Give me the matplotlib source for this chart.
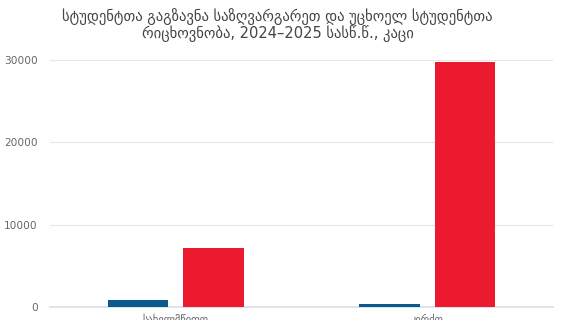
import matplotlib
matplotlib.use("Agg")
import matplotlib.pyplot as plt
import numpy as np

# data
categories = ["სახელმწიფო", "კერძო"]
sent_abroad = [850, 400]
foreign_students = [7150, 29750]
title = "სტუდენტთა გაგზავნა საზღვარგარეთ და უცხოელ სტუდენტთა\nრიცხოვნობა, 2024–2025 სასწ.წ., კაცი"

plt.rcParams['font.family'] = ['DejaVu Sans']

fig = plt.figure(figsize=(5.63, 3.2), dpi=100)
ax = fig.add_axes([0.089, 0.0406, 0.893, 0.772])

x = np.arange(len(categories))
w = 0.24
ax.bar(x - 0.15, sent_abroad, width=w, color="#0b5a8f", zorder=3)
ax.bar(x + 0.15, foreign_students, width=w, color="#eb1a2e", zorder=3)

ax.set_xlim(-0.5, 1.5)
ax.set_ylim(0, 30000)
ax.set_yticks([0, 10000, 20000, 30000])
ax.set_xticks(x)
ax.set_xticklabels(categories)
ax.tick_params(axis='both', length=0, labelsize=7.6, colors="#666666")
ax.tick_params(axis='y', pad=9)
ax.tick_params(axis='x', pad=5)
ax.grid(axis='y', color="#e6e6e6", linewidth=0.8, zorder=0)
for s in ['top', 'right', 'left']:
    ax.spines[s].set_visible(False)
ax.spines['bottom'].set_color("#d8dde6")
ax.spines['bottom'].set_linewidth(1.2)

fig.text(0.493, 0.975, title, ha='center', va='top', fontsize=10.5,
         color="#444444", linespacing=1.02)

fig.savefig("out.png", dpi=100)
